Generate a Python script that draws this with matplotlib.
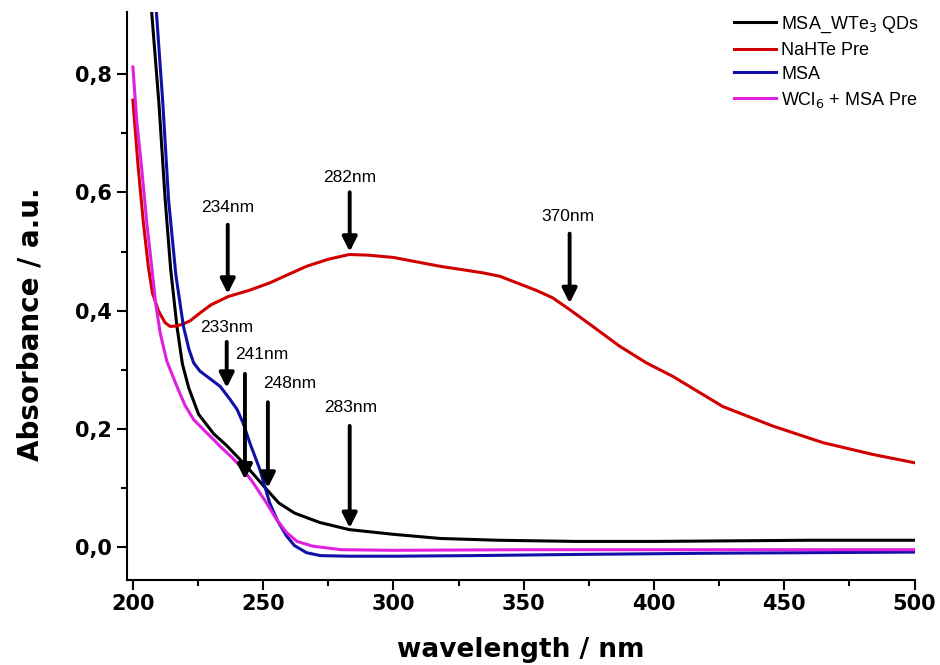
import numpy as np
import matplotlib
matplotlib.use("Agg")
import matplotlib.pyplot as plt

plt.rcParams['font.family'] = ['Liberation Sans', 'DejaVu Sans']

# valores (longitud de onda nm, absorbancia)
wl_qds = [206.5, 207.2, 210, 212.4, 214.5, 216.9, 219, 221.4, 225.2, 231, 236, 242.3, 246, 251.3,
          256, 262, 271.7, 283, 300, 318, 340, 370, 400, 430, 460, 500]
abs_qds = [0.95, 0.905, 0.75, 0.587, 0.47, 0.3735, 0.31, 0.27, 0.225, 0.192, 0.172, 0.143, 0.125,
           0.098, 0.075, 0.058, 0.042, 0.030, 0.022, 0.015, 0.012, 0.010, 0.010, 0.011, 0.012,
           0.012]

wl_nahte = [200, 202, 204, 205.9, 207.5, 209.8, 212.3, 214.3, 216.5, 219, 222, 226, 230, 236.6,
            245, 252.5, 260, 266.6, 275, 283, 290, 300, 318, 334.4, 341, 348, 355, 361, 367.6,
            376, 386.8, 397, 407.2, 426.4, 445.6, 464.8, 484, 500]
abs_nahte = [0.756, 0.644, 0.55, 0.475, 0.43, 0.40, 0.38, 0.3735, 0.374, 0.377, 0.383, 0.397,
             0.41, 0.424, 0.435, 0.447, 0.462, 0.475, 0.487, 0.495, 0.494, 0.49, 0.475, 0.464,
             0.458, 0.446, 0.434, 0.422, 0.402, 0.375, 0.34, 0.312, 0.289, 0.238, 0.205, 0.177,
             0.157, 0.143]

wl_msa = [208, 209.1, 211.5, 213.7, 216.5, 219.4, 221.5, 223.3, 225.7, 228.4, 233.5, 237.3, 240,
          242.3, 245, 248.7, 252.5, 255.5, 259, 262, 266.6, 272, 283, 300, 330, 370, 420, 460, 500]
abs_msa = [0.96, 0.9, 0.75, 0.587, 0.46, 0.3735, 0.335, 0.312, 0.298, 0.289, 0.272, 0.25, 0.233,
           0.21, 0.175, 0.132, 0.075, 0.045, 0.019, 0.003, -0.009, -0.014, -0.015, -0.015,
           -0.014, -0.012, -0.010, -0.009, -0.008]

wl_wcl6 = [200, 201.5, 203.3, 205.3, 207.2, 208.8, 210.5, 213, 216.9, 220, 223.3, 228, 231, 233.4,
           238, 242.3, 246, 251.3, 255, 259, 263, 269, 280, 300, 350, 400, 450, 500]
abs_wcl6 = [0.812, 0.72, 0.644, 0.55, 0.475, 0.41, 0.362, 0.315, 0.272, 0.24, 0.216, 0.195, 0.182,
            0.171, 0.152, 0.132, 0.11, 0.075, 0.048, 0.025, 0.010, 0.002, -0.004, -0.005, -0.004,
            -0.004, -0.004, -0.004]

# picos marcados: texto, x de la flecha, y inicio, y punta, posicion del texto
etiquetas = ["234nm", "282nm", "370nm", "233nm", "241nm", "248nm", "283nm"]
flecha_x = [236.4, 283.2, 367.6, 236.0, 243.0, 251.8, 283.2]
flecha_y0 = [0.55, 0.605, 0.535, 0.352, 0.298, 0.25, 0.21]
flecha_y1 = [0.424, 0.495, 0.408, 0.265, 0.11, 0.096, 0.028]
texto_x = [236.4, 283.2, 366.9, 236.0, 249.5, 260.2, 283.6]
texto_y = [0.574, 0.626, 0.559, 0.371, 0.326, 0.277, 0.236]

xticks = [200, 250, 300, 350, 400, 450, 500]
yticks = [0.0, 0.2, 0.4, 0.6, 0.8]
ytick_labels = ["0,0", "0,2", "0,4", "0,6", "0,8"]

fig = plt.figure(figsize=(9.4, 6.65), dpi=100)
ax = fig.add_axes([0.135, 0.128, 0.838, 0.854])

ax.plot(wl_qds, abs_qds, color="black", lw=2.2, label="MSA_WTe$_3$ QDs")
ax.plot(wl_nahte, abs_nahte, color="#d10000", lw=2.2, label="NaHTe Pre")
ax.plot(wl_msa, abs_msa, color="#1010a8", lw=2.2, label="MSA")
ax.plot(wl_wcl6, abs_wcl6, color="#e020e0", lw=2.2, label="WCl$_6$ + MSA Pre")

for i in range(len(etiquetas)):
    ax.annotate("", xy=(flecha_x[i], flecha_y1[i]), xytext=(flecha_x[i], flecha_y0[i]),
                arrowprops=dict(arrowstyle="-|>", color="black", lw=2.8, mutation_scale=22))
    ax.text(texto_x[i], texto_y[i], etiquetas[i], ha="center", va="center", fontsize=12.5)

ax.set_xlim(197.7, 500)
ax.set_ylim(-0.055, 0.905)
ax.set_xticks(xticks)
ax.set_xticks([225, 275, 325, 375, 425, 475], minor=True)
ax.set_yticks(yticks)
ax.set_yticklabels(ytick_labels)
ax.set_yticks([0.1, 0.3, 0.5, 0.7], minor=True)
ax.tick_params(which="major", direction="out", length=7, width=1.5, labelsize=15)
ax.tick_params(which="minor", direction="out", length=4, width=1.5)
for lab in ax.get_xticklabels() + ax.get_yticklabels():
    lab.set_fontweight("bold")
    lab.set_family("DejaVu Sans")

ax.spines["top"].set_visible(False)
ax.spines["right"].set_visible(False)
ax.spines["left"].set_linewidth(1.5)
ax.spines["bottom"].set_linewidth(1.5)

ax.set_xlabel("wavelength / nm", fontsize=19, fontweight="bold", family="DejaVu Sans")
ax.set_ylabel("Absorbance / a.u.", fontsize=20, fontweight="bold", family="DejaVu Sans")
ax.xaxis.set_label_coords(0.5, -0.1)
ax.yaxis.set_label_coords(-0.104, 0.45)

ax.legend(loc="upper left", bbox_to_anchor=(0.781, 0.978), bbox_transform=fig.transFigure,
          frameon=False, fontsize=13, handlelength=2.3, labelspacing=0.38,
          handletextpad=0.3, borderpad=0, borderaxespad=0)

fig.savefig("out.png", dpi=100)
